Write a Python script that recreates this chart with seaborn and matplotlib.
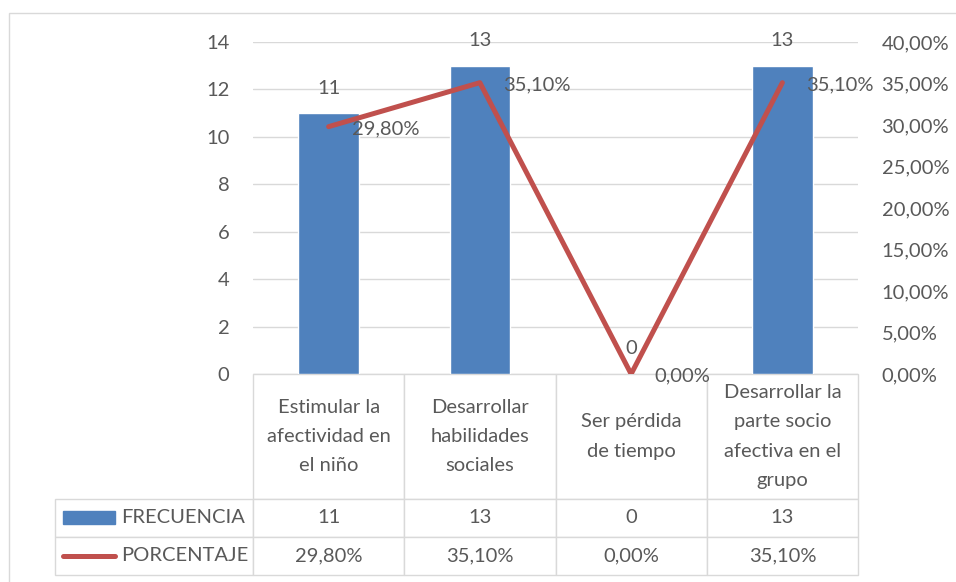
import matplotlib
matplotlib.use("Agg")
import matplotlib.pyplot as plt
import matplotlib.patches as mpatches
from matplotlib.lines import Line2D
import numpy as np
import seaborn as sns

categories = ["Estimular la\nafectividad en\nel niño",
              "Desarrollar\nhabilidades\nsociales",
              "Ser pérdida\nde tiempo",
              "Desarrollar la\nparte socio\nafectiva en el\ngrupo"]
frecuencia = [11, 13, 0, 13]
porcentaje = [29.8, 35.1, 0.0, 35.1]
series_names = ["FRECUENCIA", "PORCENTAJE"]

blue = "#4F81BD"
red = "#C0504D"
txt = "#595959"
grid = "#D9D9D9"
fs = 14.5

sns.set_theme(style="white")
plt.rcParams['font.family'] = ['Lato', 'DejaVu Sans']

def pct_fmt(v):
    return f"{v:.2f}%".replace(".", ",")

fig = plt.figure(figsize=(9.56, 5.82), dpi=100)
ax = fig.add_axes([253/956, 1-374/582, 605/956, 332/582])

pos = np.arange(len(categories))
sns.barplot(x=pos, y=frecuencia, color=blue, saturation=1, width=0.4, ax=ax)
ax.set_ylim(0, 14)
ax.set_yticks(range(0, 15, 2))
ax.set_xlim(-0.5, 3.5)
ax.yaxis.grid(True, color=grid, linewidth=1)
ax.set_axisbelow(True)
ax.set_xticks([])
ax.set_xlabel("")
ax.tick_params(axis="y", length=0, pad=17, labelsize=fs, labelcolor=txt)
for s in ax.spines.values():
    s.set_visible(False)

for i, v in enumerate(frecuencia):
    ax.annotate(str(v), (i, v), xytext=(0, 18), textcoords="offset points",
                ha="center", va="center", fontsize=fs, color=txt)

ax2 = ax.twinx()
sns.lineplot(x=pos, y=porcentaje, color=red, linewidth=3.6, ax=ax2,
             solid_capstyle="round")
ax2.set_ylim(0, 40)
ax2.set_yticks(np.arange(0, 41, 5))
ax2.set_yticklabels([pct_fmt(t) for t in np.arange(0, 41, 5)])
ax2.tick_params(axis="y", length=0, pad=17, labelsize=fs, labelcolor=txt)
ax2.grid(False)
for s in ax2.spines.values():
    s.set_visible(False)

for i, v in enumerate(porcentaje):
    ax2.annotate(pct_fmt(v), (i, v), xytext=(17, -1.5), textcoords="offset points",
                 ha="left", va="center", fontsize=fs, color=txt)

# data table under the chart (first column holds the series names)
cell_text = [[series_names[0]] + [str(v) for v in frecuencia],
             [series_names[1]] + [pct_fmt(v) for v in porcentaje]]
tab = ax.table(cellText=cell_text, colLabels=[""] + categories,
               colWidths=[0.327] + [0.25]*4, cellLoc="center",
               bbox=[-0.327, -0.605, 1.327, 0.605])
tab.auto_set_font_size(False)
tab.set_fontsize(fs)
for (r, c), cell in tab.get_celld().items():
    cell.set_edgecolor(grid)
    cell.set_linewidth(1)
    cell.get_text().set_color(txt)
    cell.set_height(125 if r == 0 else 38)
    if r == 0:
        cell.get_text().set_linespacing(1.88)
    if c == 0:
        cell._loc = "left"
        cell.get_text().set_horizontalalignment("left")
        cell.PAD = 0.333
        if r == 0:
            cell.visible_edges = ""

# legend keys inside the table row labels
ax.add_patch(mpatches.Rectangle((-0.314, -0.452), 0.086, 0.039, transform=ax.transAxes,
                                color=blue, clip_on=False))
ax.add_line(Line2D([-0.314, -0.228], [-0.548, -0.548], transform=ax.transAxes,
                   color=red, linewidth=3.6, solid_capstyle="round", clip_on=False))

# chart border
fig.patches.append(mpatches.Rectangle((9/956, -0.05), 1.0, 1-13/582+0.05,
                                      transform=fig.transFigure, fill=False,
                                      edgecolor=grid, linewidth=1))

fig.savefig("out.png", dpi=100)
